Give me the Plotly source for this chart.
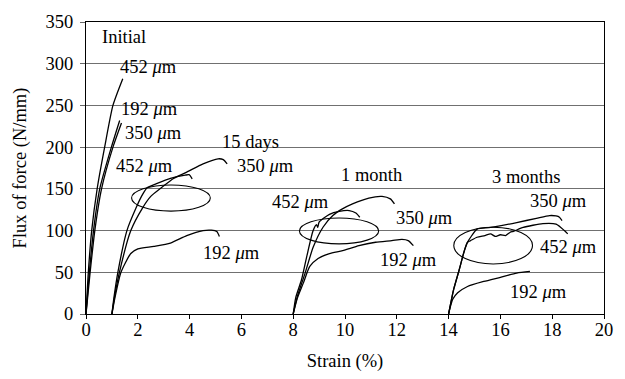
import plotly.graph_objects as go

# ---- data (strain %, flux of force N/mm) ----
init_452_x = [0, 0.09, 0.22, 0.43, 0.72, 1.04, 1.42]
init_452_y = [0, 50, 100, 150, 200, 250, 282]
init_192_x = [0, 0.13, 0.29, 0.53, 0.98, 1.30]
init_192_y = [0, 50, 100, 150, 200, 232]
init_350_x = [0, 0.16, 0.34, 0.60, 1.04, 1.37]
init_350_y = [0, 50, 100, 150, 200, 229]

d15_452_x = [1, 1.08, 1.23, 1.58, 1.93, 2.18, 2.37, 2.75, 3.26, 3.83, 3.98, 4.1]
d15_452_y = [0, 20, 50, 100, 127, 143, 151.5, 156.6, 162.5, 166.4, 167, 162]
d15_350_x = [1, 1.1, 1.29, 1.73, 2.18, 2.5, 2.88, 3.38, 3.89, 4.52, 5.1, 5.3, 5.45]
d15_350_y = [0, 20, 50, 100, 127, 141, 150.7, 162.5, 170, 180, 186, 185, 180]
d15_192_x = [1, 1.12, 1.35, 1.73, 2.0, 2.62, 3.26, 3.89, 4.52, 4.84, 5.05, 5.15]
d15_192_y = [0, 20, 50, 72.5, 78, 81, 85, 94, 100, 100.5, 99, 93]

m1_452_x = [8, 8.1, 8.32, 8.52, 8.77, 8.9, 8.95, 9.0, 9.4, 9.78, 10.16, 10.42, 10.57]
m1_452_y = [0, 20, 41, 68.5, 100, 107, 104, 110, 119.5, 123, 124, 121, 116]
m1_350_x = [8, 8.15, 8.46, 8.77, 9.15, 9.53, 9.9, 10.29, 10.92, 11.43, 11.75, 11.91]
m1_350_y = [0, 20, 49, 80, 104, 118, 126, 132, 139, 141, 138, 132]
m1_192_x = [8, 8.15, 8.39, 8.64, 8.96, 9.4, 9.91, 10.54, 11.18, 11.81, 12.2, 12.44, 12.64]
m1_192_y = [0, 18, 37, 57, 66.6, 72.5, 76, 82, 86, 88, 89.5, 88, 82]

m3_350_x = [14, 14.2, 14.41, 14.6, 14.73, 14.85, 15.1, 15.62, 16.63, 17.39, 17.9, 18.15, 18.28, 18.38]
m3_350_y = [0, 30, 53, 75, 86, 92, 101.8, 103.7, 109.6, 114.7, 118, 117.5, 116, 112]
m3_452_x = [14, 14.2, 14.41, 14.6, 14.73, 14.85, 15.1, 15.4, 15.62, 15.8, 16.0, 16.2, 16.38, 16.5, 16.88, 17.64, 18.15, 18.47, 18.6]
m3_452_y = [0, 30, 53, 75, 86, 88, 92, 94, 96, 93, 95, 94, 98, 99, 103.7, 108.4, 107.7, 100, 96]
m3_192_x = [14, 14.08, 14.16, 14.35, 14.73, 15.36, 16, 16.63, 17.14]
m3_192_y = [0, 10, 17.6, 25.4, 33, 39, 44, 49, 51]

# ellipses: centre x, centre y, radius x, radius y
ell_cx = [3.28, 9.77, 15.72]
ell_cy = [139, 99.5, 82]
ell_rx = [1.52, 1.53, 1.52]
ell_ry = [15.7, 15.5, 22]

# labels
label_text = ["Initial", "452 <i>μ</i>m", "192 <i>μ</i>m", "350 <i>μ</i>m", "452 <i>μ</i>m",
              "15 days", "350 <i>μ</i>m", "192 <i>μ</i>m",
              "1 month", "452 <i>μ</i>m", "350 <i>μ</i>m", "192 <i>μ</i>m",
              "3 months", "350 <i>μ</i>m", "452 <i>μ</i>m", "192 <i>μ</i>m"]
label_x = [0.53, 1.22, 1.27, 1.44, 1.1,
           5.16, 5.75, 4.44,
           9.78, 7.1, 11.88, 11.28,
           15.59, 17.07, 17.45, 16.31]
label_y = [332, 296, 245.5, 217, 178,
           205.6, 177, 73.6,
           167, 134, 115.5, 64.6,
           164.5, 135, 80, 26]

x_ticks = [0, 2, 4, 6, 8, 10, 12, 14, 16, 18, 20]
y_ticks = [0, 50, 100, 150, 200, 250, 300, 350]

FONT = "Liberation Serif, Times New Roman, serif"
FS = 18.5

fig = go.Figure()
curves = [
    (init_452_x, init_452_y), (init_192_x, init_192_y), (init_350_x, init_350_y),
    (d15_452_x, d15_452_y), (d15_350_x, d15_350_y), (d15_192_x, d15_192_y),
    (m1_452_x, m1_452_y), (m1_350_x, m1_350_y), (m1_192_x, m1_192_y),
    (m3_350_x, m3_350_y), (m3_452_x, m3_452_y), (m3_192_x, m3_192_y),
]
for cx, cy in curves:
    fig.add_trace(go.Scatter(x=cx, y=cy, mode="lines",
                             line=dict(color="black", width=1.3, shape="spline", smoothing=0.6),
                             showlegend=False, hoverinfo="skip"))

for cx, cy, rx, ry in zip(ell_cx, ell_cy, ell_rx, ell_ry):
    fig.add_shape(type="circle", xref="x", yref="y",
                  x0=cx - rx, x1=cx + rx, y0=cy - ry, y1=cy + ry,
                  line=dict(color="black", width=1.1))

for t, x, y in zip(label_text, label_x, label_y):
    fig.add_annotation(x=x, y=y, text=t, showarrow=False, xanchor="left", yanchor="middle",
                       font=dict(family=FONT, size=FS, color="black"))

fig.update_layout(
    width=625, height=379,
    margin=dict(l=86, r=13, t=17, b=64),
    paper_bgcolor="white", plot_bgcolor="white",
    font=dict(family=FONT, size=FS, color="black"),
    showlegend=False,
)
fig.update_xaxes(range=[0, 20], tickvals=x_ticks, ticks="outside", ticklen=4,
                 tickcolor="black", showline=True, linecolor="black", linewidth=1,
                 mirror=True, showgrid=False, zeroline=False, ticklabelstandoff=-5,
                 title=dict(text="Strain (%)", font=dict(family=FONT, size=FS), standoff=14))
fig.update_yaxes(range=[0, 350], tickvals=y_ticks, ticks="outside", ticklen=5,
                 tickcolor="#666666", showline=True, linecolor="black", linewidth=1,
                 mirror=True, showgrid=True, gridcolor="#707070", gridwidth=1,
                 zeroline=False, ticklabelstandoff=3,
                 title=dict(text="Flux of force (N/mm)", font=dict(family=FONT, size=FS), standoff=14))

fig.write_html("out.html", config={"displayModeBar": False},
               post_script="document.body.style.margin='0';document.body.style.overflow='hidden';")
